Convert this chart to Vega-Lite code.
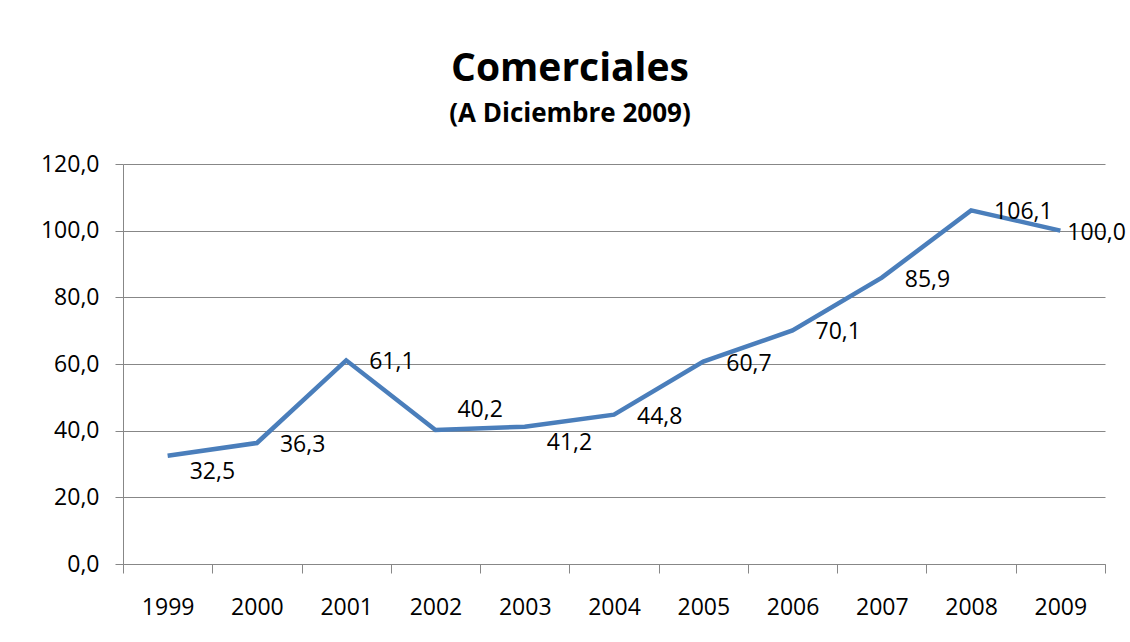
{
  "$schema": "https://vega.github.io/schema/vega-lite/v6.json",
  "width": 982,
  "height": 400,
  "autosize": {"type": "none"},
  "padding": {"left": 123, "top": 164, "right": 25, "bottom": 78},
  "background": "white",
  "config": {
    "locale": {"number": {"decimal": ",", "thousands": ".", "grouping": [3], "currency": ["", ""]}},
    "view": {"stroke": null},
    "font": "Open Sans"
  },
  "title": {
    "text": "Comerciales",
    "subtitle": "(A Diciembre 2009)",
    "font": "Open Sans",
    "fontSize": 39,
    "fontWeight": "bold",
    "subtitleFont": "Open Sans",
    "subtitleFontSize": 26,
    "subtitleFontWeight": "bold",
    "color": "black",
    "subtitleColor": "black",
    "anchor": "middle",
    "dx": -44,
    "offset": 26,
    "subtitlePadding": 12
  },
  "data": {
    "values": [
      {"year": 1999, "value": 32.5},
      {"year": 2000, "value": 36.3},
      {"year": 2001, "value": 61.1},
      {"year": 2002, "value": 40.2},
      {"year": 2003, "value": 41.2},
      {"year": 2004, "value": 44.8},
      {"year": 2005, "value": 60.7},
      {"year": 2006, "value": 70.1},
      {"year": 2007, "value": 85.9},
      {"year": 2008, "value": 106.1},
      {"year": 2009, "value": 100.0}
    ]
  },
  "encoding": {
    "x": {
      "field": "year",
      "type": "ordinal",
      "bandPosition": 0.5,
      "scale": {"type": "band", "paddingInner": 0, "paddingOuter": 0},
      "axis": {
        "title": null,
        "labelAngle": 0,
        "tickBand": "extent",
        "grid": false,
        "domainColor": "#878787",
        "tickColor": "#878787",
        "tickSize": 9,
        "labelFont": "Open Sans",
        "labelFontSize": 23,
        "labelFontWeight": "normal",
        "labelColor": "black",
        "labelPadding": 23
      }
    },
    "y": {
      "field": "value",
      "type": "quantitative",
      "scale": {"domain": [0, 120]},
      "axis": {
        "title": null,
        "values": [0, 20, 40, 60, 80, 100, 120],
        "format": ".1f",
        "grid": true,
        "gridColor": "#878787",
        "gridOpacity": 1,
        "domainColor": "#878787",
        "tickColor": "#878787",
        "tickSize": 8,
        "labelFont": "Open Sans",
        "labelFontSize": 23,
        "labelColor": "black",
        "labelPadding": 16
      }
    }
  },
  "layer": [
    {"mark": {"type": "line", "color": "#4A7EBB", "strokeWidth": 4.5}},
    {
      "transform": [{"filter": "indexof([2000, 2001, 2004, 2005, 2006, 2007, 2008], datum.year) >= 0"}],
      "mark": {"type": "text", "align": "left", "baseline": "middle", "dx": 23, "dy": 2, "fontSize": 23, "color": "black"},
      "encoding": {"text": {"field": "value", "type": "quantitative", "format": ".1f"}}
    },
    {
      "transform": [{"filter": "datum.year == 1999 || datum.year == 2003"}],
      "mark": {"type": "text", "align": "left", "baseline": "middle", "dx": 22, "dy": 16, "fontSize": 23, "color": "black"},
      "encoding": {"text": {"field": "value", "type": "quantitative", "format": ".1f"}}
    },
    {
      "transform": [{"filter": "datum.year == 2002"}],
      "mark": {"type": "text", "align": "left", "baseline": "middle", "dx": 22, "dy": -20, "fontSize": 23, "color": "black"},
      "encoding": {"text": {"field": "value", "type": "quantitative", "format": ".1f"}}
    },
    {
      "transform": [{"filter": "datum.year == 2009"}],
      "mark": {"type": "text", "align": "left", "baseline": "middle", "dx": 7, "dy": 2, "fontSize": 23, "color": "black"},
      "encoding": {"text": {"field": "value", "type": "quantitative", "format": ".1f"}}
    }
  ]
}
